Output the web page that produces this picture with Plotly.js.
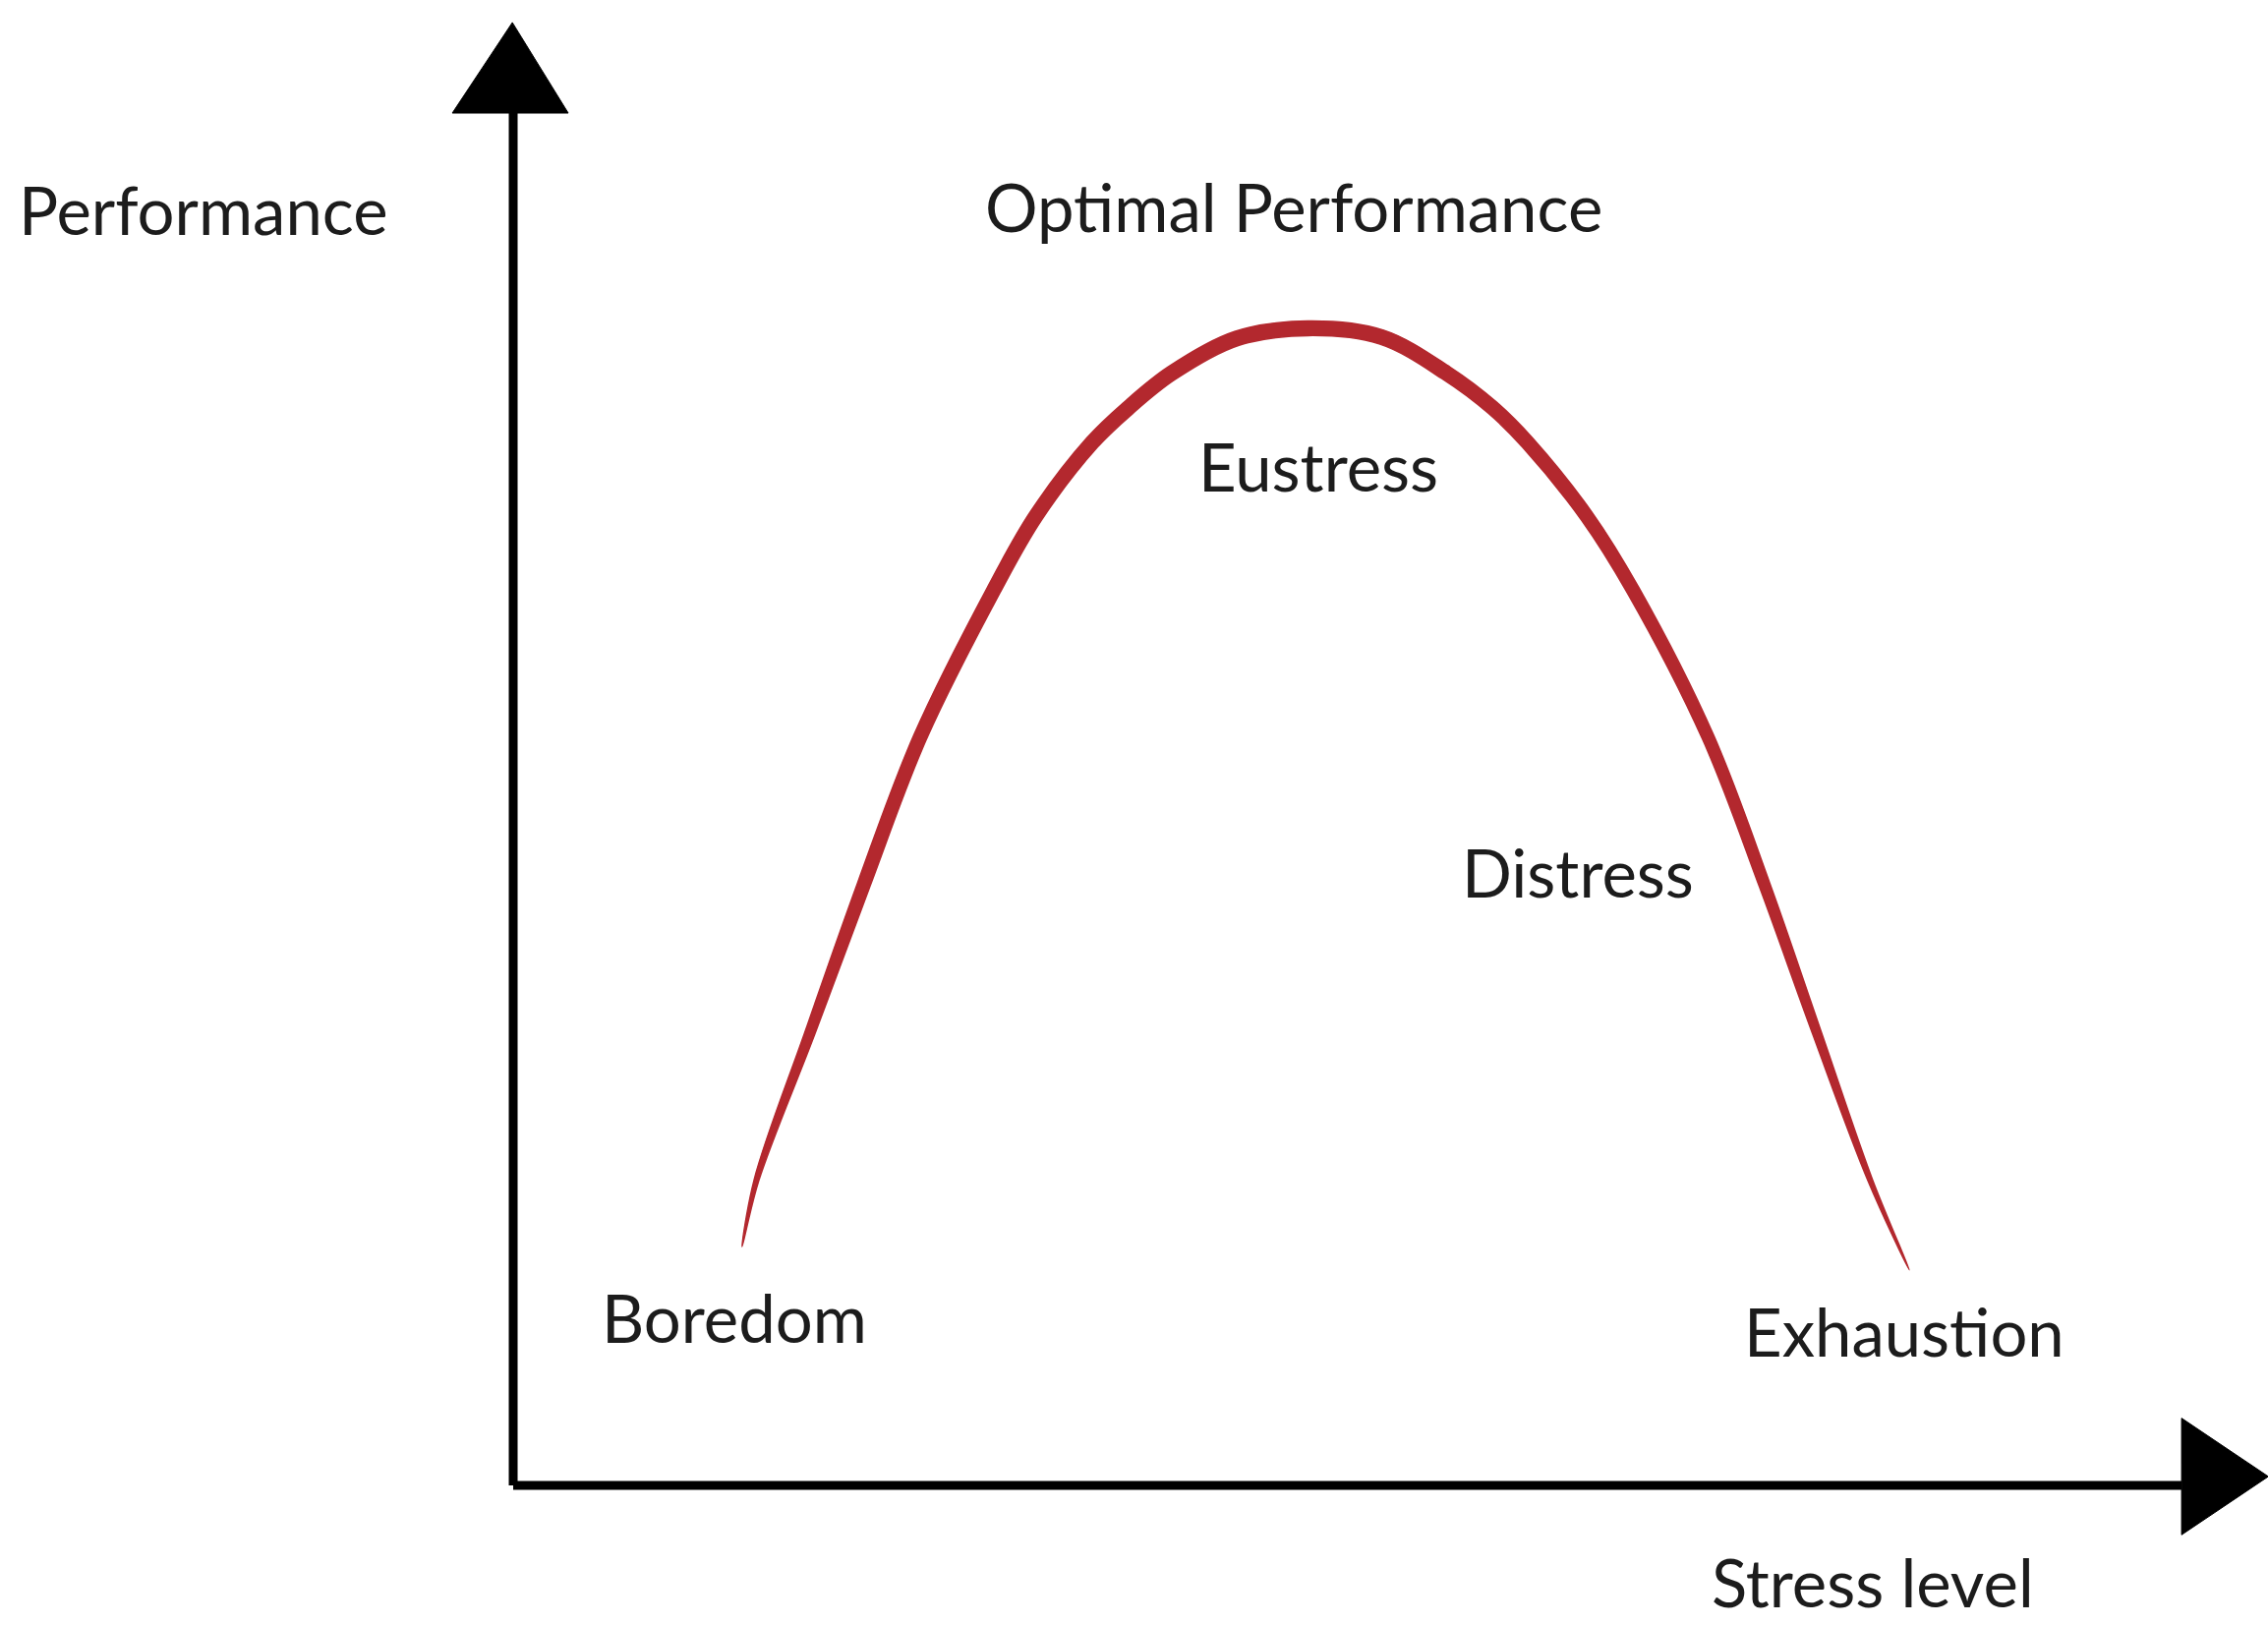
<!DOCTYPE html>
<html>
<head>
<meta charset="utf-8">
<script src="https://cdn.plot.ly/plotly-3.0.1.min.js"></script>
<style>html,body{margin:0;padding:0;background:#fff;}#chart{width:2307px;height:1653px;}</style>
</head>
<body>
<div id="chart"></div>
<script>
// Stress level (x) and performance (y), arbitrary units 0-10
const stressLevel = [1.372, 1.458, 1.779, 2.100, 2.438, 2.880, 3.132, 3.470, 3.687, 3.947, 4.337, 4.762, 5.204, 5.594, 5.871, 6.080, 6.435, 6.712, 7.163, 7.501, 7.814, 8.134, 8.368];
const performance = [1.739, 2.224, 3.299, 4.374, 5.449, 6.524, 7.062, 7.599, 7.852, 8.105, 8.358, 8.432, 8.368, 8.105, 7.852, 7.599, 7.062, 6.524, 5.449, 4.374, 3.299, 2.224, 1.571];

// Labels
const labelText = ["Performance", "Optimal Performance", "Eustress", "Distress", "Boredom", "Exhaustion", "Stress level"];
const labelX = [-1.856, 4.679, 4.826, 6.382, 1.326, 8.338, 8.149];
const labelY = [9.298, 9.320, 7.428, 4.470, 1.225, 1.125, -0.70];

const axisMax = 10;
const xRange = [-3.076, 10.518];
const yRange = [-1.017, 10.824];
const W = 2307, H = 1653;

// --- brush-like stroke: a band around the curve whose width tapers to the ends ---
const sx = W / (xRange[1] - xRange[0]);
const sy = H / (yRange[1] - yRange[0]);
const P = stressLevel.map((x, i) => [x * sx, performance[i] * sy]);
const n = P.length;
const cum = [0];
for (let i = 1; i < n; i++) {
  cum.push(cum[i - 1] + Math.hypot(P[i][0] - P[i - 1][0], P[i][1] - P[i - 1][1]));
}
const total = cum[n - 1];
function strokeWidth(t) {
  const base = t < 0.5 ? 12 + (15 - 12) * (t / 0.5) : 15 - (15 - 9) * ((t - 0.5) / 0.5);
  const taper = Math.min(1, t / 0.14, (1 - t) / 0.14);
  return base * Math.pow(Math.max(taper, 0), 0.6);
}
const sideA = [], sideB = [];
for (let i = 0; i < n; i++) {
  const a = P[Math.max(i - 1, 0)], b = P[Math.min(i + 1, n - 1)];
  let tx = b[0] - a[0], ty = b[1] - a[1];
  const len = Math.hypot(tx, ty);
  tx /= len; ty /= len;
  const nx = -ty, ny = tx;
  const w = strokeWidth(cum[i] / total) / 2;
  sideA.push([P[i][0] + nx * w, P[i][1] + ny * w]);
  sideB.push([P[i][0] - nx * w, P[i][1] - ny * w]);
}
const band = sideA.concat(sideB.slice(1, n - 1).reverse());
band.push(sideA[0]);

const curve = {
  x: band.map(p => p[0] / sx),
  y: band.map(p => p[1] / sy),
  type: 'scatter',
  mode: 'lines',
  fill: 'toself',
  fillcolor: '#b3282e',
  line: {color: '#b3282e', width: 1.5, shape: 'spline', smoothing: 1.0},
  hoverinfo: 'skip'
};

const font = {family: 'Lato, "Open Sans", sans-serif', size: 67, color: '#1c1c1c'};

const annotations = labelText.map((t, i) => ({
  x: labelX[i], y: labelY[i], xref: 'x', yref: 'y',
  text: t, showarrow: false, xanchor: 'center', yanchor: 'middle', font: font
}));

const shapes = [
  // y axis line
  {type: 'line', xref: 'x', yref: 'y', x0: 0, x1: 0, y0: 0, y1: axisMax, line: {color: '#000', width: 9}},
  // x axis line
  {type: 'line', xref: 'x', yref: 'y', x0: 0, x1: axisMax, y0: 0, y1: 0, line: {color: '#000', width: 9}},
  // y arrow head
  {type: 'path', xref: 'x', yref: 'y', path: 'M -0.365 10 L 0.330 10 L -0.005 10.66 Z', fillcolor: '#000', line: {color: '#000', width: 1}},
  // x arrow head
  {type: 'path', xref: 'x', yref: 'y', path: 'M 10 0.49 L 10 -0.36 L 10.52 0.065 Z', fillcolor: '#000', line: {color: '#000', width: 1}}
];

const layout = {
  width: W, height: H,
  margin: {l: 0, r: 0, t: 0, b: 0, pad: 0},
  paper_bgcolor: '#ffffff', plot_bgcolor: '#ffffff',
  showlegend: false,
  xaxis: {range: xRange, visible: false, fixedrange: true},
  yaxis: {range: yRange, visible: false, fixedrange: true},
  annotations: annotations,
  shapes: shapes
};

Plotly.newPlot('chart', [curve], layout, {displayModeBar: false, staticPlot: true});
</script>
</body>
</html>
